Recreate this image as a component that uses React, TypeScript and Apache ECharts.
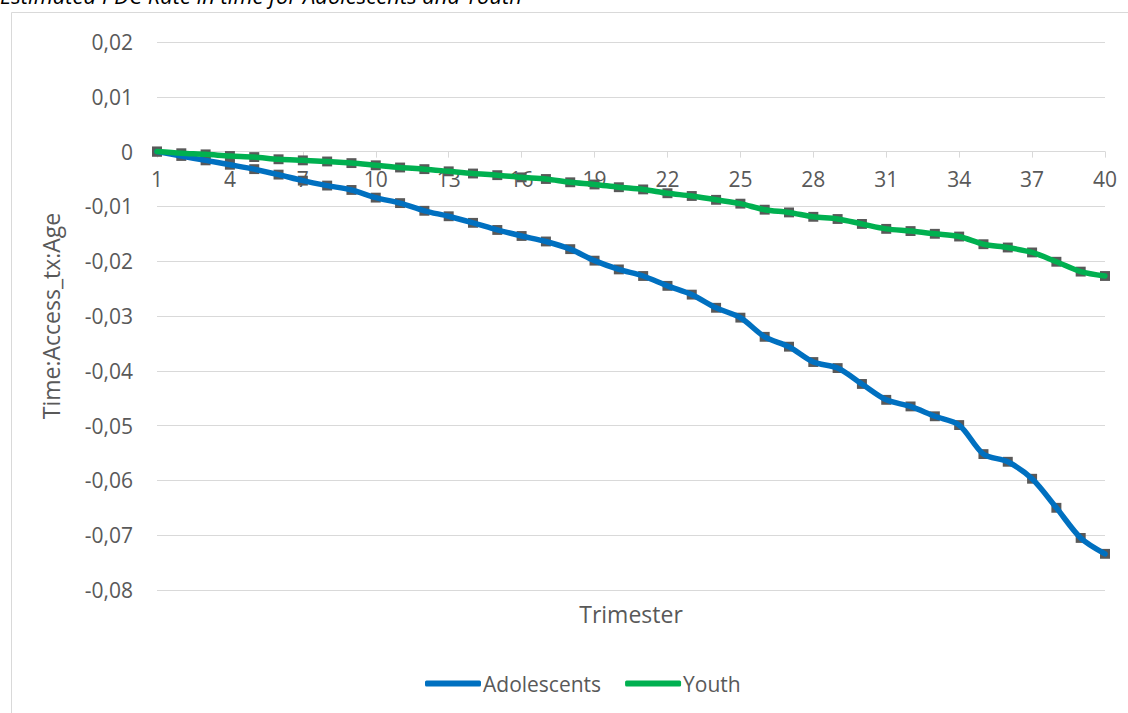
import React, { useEffect, useRef } from 'react';
import * as echarts from 'echarts';

const trimesters = ['1','2','3','4','5','6','7','8','9','10','11','12','13','14','15','16','17','18','19','20','21','22','23','24','25','26','27','28','29','30','31','32','33','34','35','36','37','38','39','40'];

const adolescents = [0, -0.0008, -0.0016, -0.0024, -0.0032, -0.0042, -0.0053, -0.0062, -0.007, -0.0084, -0.0094, -0.0108, -0.0118, -0.013, -0.0143, -0.0154, -0.0164, -0.0178, -0.0199, -0.0215, -0.0227, -0.0245, -0.0261, -0.0285, -0.0303, -0.0338, -0.0356, -0.0384, -0.0395, -0.0424, -0.0453, -0.0465, -0.0483, -0.0499, -0.0552, -0.0566, -0.0597, -0.065, -0.0705, -0.0734];

const youth = [0, -0.0003, -0.0005, -0.0008, -0.001, -0.0014, -0.0016, -0.0018, -0.0021, -0.0025, -0.0029, -0.0032, -0.0036, -0.004, -0.0043, -0.0047, -0.005, -0.0056, -0.006, -0.0065, -0.0069, -0.0076, -0.0081, -0.0088, -0.0095, -0.0106, -0.0111, -0.0119, -0.0123, -0.0132, -0.0141, -0.0145, -0.015, -0.0155, -0.0169, -0.0175, -0.0184, -0.0201, -0.0219, -0.0227];

const errorMargin = 0.0009;

const Y_MIN = -0.08;
const Y_MAX = 0.02;
const Y_STEP = 0.01;

const seriesNames = ['Adolescents', 'Youth'];
const titleText = 'Estimated PDC Rate in time for Adolescents and Youth';
const yAxisTitle = 'Time:Access_tx:Age';
const xAxisTitle = 'Trimester';

const FONT = '"Open Sans", sans-serif';
const GREY = '#595959';

const GRID_TOP = 42;
const GRID_BOTTOM = 123;
const CHART_H = 713;

function fmt(v: number): string {
  const r = Math.round(v * 100) / 100;
  if (r === 0) return '0';
  return r.toFixed(2).replace('.', ',');
}

function errorSeries(values: number[], name: string) {
  return {
    type: 'custom',
    name: name + ' error',
    z: 1,
    silent: true,
    encode: { x: 0, y: 1 },
    data: values.map((v, i) => [i, v]),
    renderItem: (params: any, api: any) => {
      const idx = api.value(0);
      const v = api.value(1);
      const top = api.coord([idx, v + errorMargin]);
      const bot = api.coord([idx, v - errorMargin]);
      return {
        type: 'rect',
        shape: { x: top[0] - 5, y: top[1], width: 10, height: bot[1] - top[1] },
        style: { fill: GREY },
      };
    },
  };
}

export default function App() {
  const ref = useRef<HTMLDivElement>(null);
  useEffect(() => {
    if (!ref.current) return;
    const chart = echarts.init(ref.current, null, { renderer: 'svg' });
    const plotH = CHART_H - GRID_TOP - GRID_BOTTOM;
    const zeroOffset = -((0 - Y_MIN) / (Y_MAX - Y_MIN)) * plotH;
    chart.setOption({
      animation: false,
      backgroundColor: '#ffffff',
      textStyle: { fontFamily: FONT },
      grid: { left: 157, right: 23, top: GRID_TOP, bottom: GRID_BOTTOM, containLabel: false },
      graphic: [
        {
          type: 'rect',
          shape: { x: 11.5, y: 12.5, width: 1140, height: 720 },
          style: { fill: 'none', stroke: '#d9d9d9', lineWidth: 1 },
          z: -10,
        },
        {
          type: 'text',
          x: 0,
          y: 6,
          style: {
            text: titleText,
            font: 'italic 22px "Open Sans", sans-serif',
            fill: '#000000',
            verticalAlign: 'bottom',
            align: 'left',
          },
        },
        {
          type: 'text',
          x: 631,
          y: 614,
          style: {
            text: xAxisTitle,
            font: '23px "Open Sans", sans-serif',
            fill: GREY,
            align: 'center',
            verticalAlign: 'middle',
          },
        },
      ],
      legend: {
        data: seriesNames,
        left: 420,
        top: 668,
        itemWidth: 56,
        itemHeight: 6,
        itemGap: 24,
        icon: 'roundRect',
        textStyle: { fontFamily: FONT, fontSize: 21, color: GREY, padding: [0, 0, 0, -3] },
      },
      xAxis: {
        type: 'category',
        data: trimesters,
        boundaryGap: false,
        position: 'bottom',
        offset: zeroOffset,
        axisLine: { onZero: false, lineStyle: { color: '#d9d9d9', width: 1 } },
        axisTick: { show: true, interval: 2, length: 6, inside: false, lineStyle: { color: '#d9d9d9' } },
        axisLabel: { interval: 2, color: GREY, fontSize: 21, fontFamily: FONT, margin: 17 },
        splitLine: { show: false },
      },
      yAxis: {
        type: 'value',
        min: Y_MIN,
        max: Y_MAX,
        interval: Y_STEP,
        name: yAxisTitle,
        nameLocation: 'middle',
        nameGap: 95,
        nameRotate: 90,
        nameTextStyle: { fontSize: 23, color: GREY, fontFamily: FONT },
        axisLine: { show: false },
        axisTick: { show: false },
        axisLabel: { formatter: fmt, color: GREY, fontSize: 21, fontFamily: FONT, margin: 24 },
        splitLine: { lineStyle: { color: '#d9d9d9', width: 1 } },
      },
      series: [
        errorSeries(adolescents, seriesNames[0]),
        errorSeries(youth, seriesNames[1]),
        {
          type: 'line',
          name: seriesNames[0],
          data: adolescents,
          smooth: 0.3,
          showSymbol: false,
          symbol: 'none',
          z: 3,
          lineStyle: { color: '#0070C0', width: 5.5, cap: 'round', join: 'round' },
          itemStyle: { color: '#0070C0' },
        },
        {
          type: 'line',
          name: seriesNames[1],
          data: youth,
          smooth: 0.3,
          showSymbol: false,
          symbol: 'none',
          z: 3,
          lineStyle: { color: '#00B050', width: 5.5, cap: 'round', join: 'round' },
          itemStyle: { color: '#00B050' },
        },
      ],
    });
    return () => chart.dispose();
  }, []);
  return (
    <div
      ref={ref}
      style={{ position: 'fixed', left: 0, top: 0, width: 1128, height: 713 }}
    />
  );
}
